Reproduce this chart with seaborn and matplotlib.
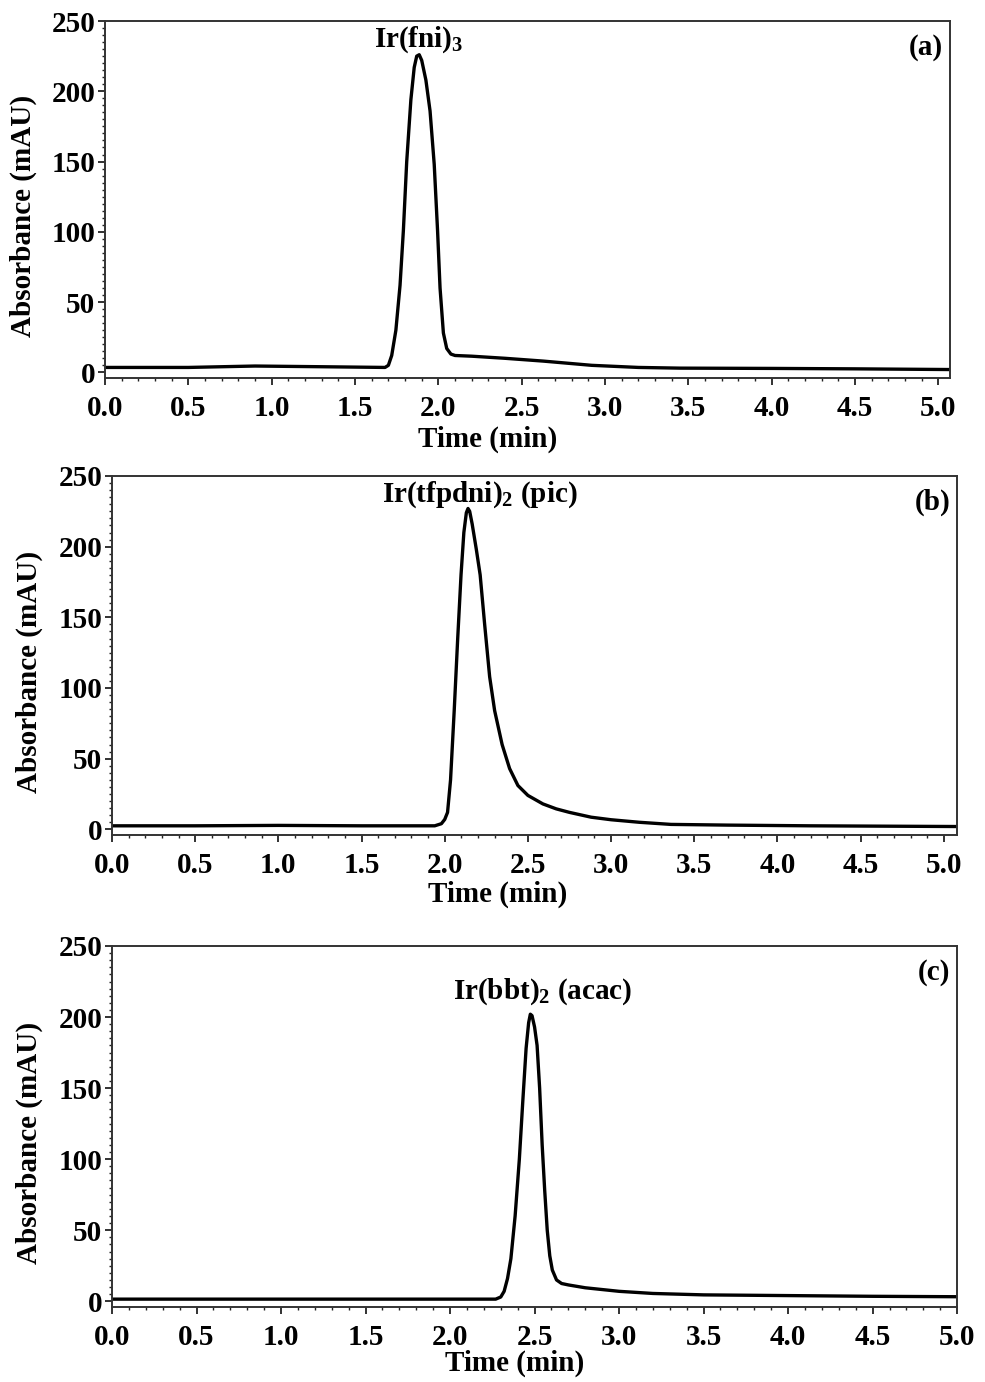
import matplotlib
matplotlib.use('Agg')
import matplotlib.pyplot as plt
import seaborn as sns
from matplotlib.ticker import MultipleLocator

# chromatograms (time in min, absorbance in mAU)
time_a = [0.0, 0.5, 0.9, 1.3, 1.68, 1.70, 1.72, 1.745, 1.77, 1.79, 1.81, 1.835,
          1.855, 1.87, 1.885, 1.90, 1.925, 1.95, 1.975, 1.995, 2.01, 2.03, 2.05,
          2.075, 2.10, 2.2, 2.4, 2.63, 2.92, 3.2, 3.45, 4.0, 4.5, 5.07]
abs_a = [3.5, 3.5, 4.5, 4, 3.5, 5, 12, 30, 62, 101, 150, 194,
         217, 225, 226, 222, 208, 186, 148, 101, 60, 28, 17,
         13, 12, 11.5, 10, 8, 5, 3.5, 3, 2.8, 2.5, 2]

time_b = [0.0, 0.5, 1.0, 1.5, 1.94, 1.98, 2.00, 2.017, 2.035, 2.057, 2.078, 2.098,
          2.115, 2.13, 2.14, 2.15, 2.165, 2.19, 2.213, 2.24, 2.27, 2.30, 2.345,
          2.39, 2.44, 2.5, 2.59, 2.67, 2.75, 2.88, 3.0, 3.17, 3.36, 3.7, 4.2, 5.08]
abs_b = [2.5, 2.5, 2.8, 2.5, 2.5, 4, 7, 12, 35, 84, 135, 180,
         210, 224, 227, 225, 216, 198, 180, 145, 108, 84, 60,
         43, 31, 24, 18, 14.5, 12, 8.6, 6.8, 5, 3.5, 3, 2.5, 2]

time_c = [0.0, 0.5, 1.0, 1.5, 2.0, 2.27, 2.30, 2.32, 2.34, 2.36, 2.385, 2.41, 2.43,
          2.45, 2.465, 2.475, 2.485, 2.50, 2.515, 2.53, 2.545, 2.56, 2.575, 2.59,
          2.605, 2.63, 2.66, 2.7, 2.8, 3.0, 3.2, 3.5, 4.0, 4.5, 5.0]
abs_c = [1.5, 1.5, 1.5, 1.5, 1.5, 1.5, 3, 7, 16, 30, 60, 100, 140,
         178, 196, 202, 201, 193, 180, 150, 110, 78, 50, 32,
         22, 15, 12.5, 11.5, 9.5, 7, 5.5, 4.5, 4, 3.5, 3.2]

compounds = ['Ir(fni)$_3$', 'Ir(tfpdni)$_2$ (pic)', 'Ir(bbt)$_2$ (acac)']
panel_tags = ['(a)', '(b)', '(c)']

sns.set_style('ticks')
plt.rcParams['font.family'] = ['Liberation Serif', 'DejaVu Serif']
plt.rcParams['font.weight'] = 'bold'
plt.rcParams['mathtext.fontset'] = 'custom'
plt.rcParams['mathtext.rm'] = 'Liberation Serif:bold'
plt.rcParams['mathtext.it'] = 'Liberation Serif:bold'
plt.rcParams['mathtext.bf'] = 'Liberation Serif:bold'
plt.rcParams['text.color'] = 'black'
plt.rcParams['axes.labelcolor'] = 'black'
plt.rcParams['xtick.color'] = 'black'
plt.rcParams['ytick.color'] = 'black'

fig = plt.figure(figsize=(9.85, 13.82), dpi=100)

# axes boxes [left, bottom, width, height] in figure fraction
boxes = [[0.1066, 0.7265, 0.858, 0.2583],
         [0.1137, 0.3958, 0.858, 0.2598],
         [0.1137, 0.0543, 0.858, 0.2612]]
xmax = [5.07, 5.08, 5.0]
label_pos = [(1.88, 0.947), (2.21, 0.947), (2.55, 0.873)]
ylab_x = [-0.080, -0.082, -0.082]
xlab_pos = [(0.453, -0.134), (0.456, -0.128), (0.477, -0.119)]

series = [(time_a, abs_a), (time_b, abs_b), (time_c, abs_c)]
fs = 21

for i, (t, a) in enumerate(series):
    ax = fig.add_axes(boxes[i])
    sns.lineplot(x=t, y=a, ax=ax, color='black', linewidth=2.4, estimator=None)
    ax.set_xlim(0, xmax[i])
    ax.set_ylim(-4, 250)
    ax.xaxis.set_minor_locator(MultipleLocator(0.1))
    ax.yaxis.set_major_locator(MultipleLocator(50))
    ax.yaxis.set_minor_locator(MultipleLocator(5))
    ax.set_xticks([0, 0.5, 1, 1.5, 2, 2.5, 3, 3.5, 4, 4.5, 5])
    ax.set_xticklabels(['%.1f' % v for v in ax.get_xticks()])
    ax.tick_params(axis='both', which='major', labelsize=fs, length=5, width=1.3,
                   direction='out', color='#222222', labelcolor='black')
    ax.tick_params(axis='x', which='major', pad=7)
    ax.tick_params(axis='y', which='major', pad=2)
    ax.tick_params(axis='both', which='minor', length=2.5, width=1, color='#222222')
    for sp in ax.spines.values():
        sp.set_linewidth(1.4)
        sp.set_color('#333333')
    for lab in ax.get_xticklabels() + ax.get_yticklabels():
        lab.set_fontweight('bold')

    ax.set_xlabel('Time (min)', fontsize=fs, fontweight='bold')
    ax.set_ylabel('Absorbance (mAU)', fontsize=fs, fontweight='bold')
    ax.yaxis.set_label_coords(ylab_x[i], 0.455)
    ax.xaxis.set_label_coords(*xlab_pos[i])

    ax.text(label_pos[i][0], label_pos[i][1], compounds[i], fontsize=fs,
            fontweight='bold', ha='center', va='center',
            transform=ax.get_xaxis_transform())
    ax.text(0.992, 0.965, panel_tags[i], fontsize=fs, fontweight='bold',
            ha='right', va='top', transform=ax.transAxes)

fig.savefig('out.png', dpi=100)
